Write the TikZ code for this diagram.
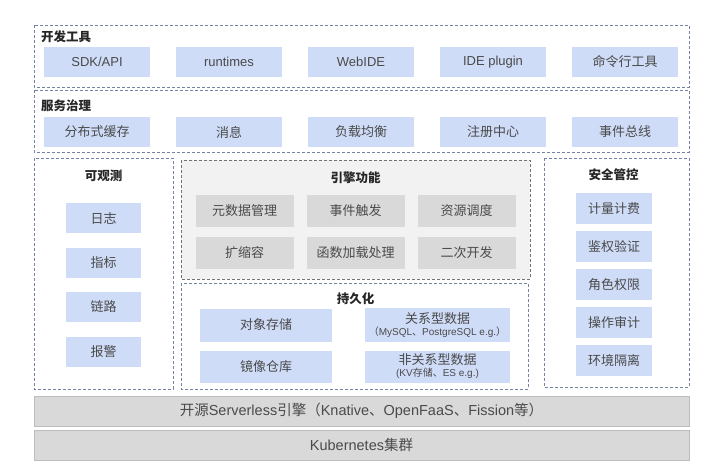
\documentclass[tikz,border=0pt]{standalone}
\usepackage{fontspec}
\setmainfont{Noto Sans CJK SC}
\newfontfamily\lat{Liberation Sans}
\usepackage{tikz}

\definecolor{boxblue}{HTML}{CFDCF7}
\definecolor{grpline}{HTML}{7483A3}
\definecolor{txtgray}{HTML}{4A4A4A}
\definecolor{engfill}{HTML}{F2F2F2}
\definecolor{enggray}{HTML}{D9D9D9}
\definecolor{barline}{HTML}{BDBDBD}

\tikzset{
  grp/.style={draw=grpline, dash pattern=on 3pt off 2pt, line width=0.8pt},
  grptitle/.style={text=black!85, font=\fontsize{12.5}{14}\selectfont\bfseries, inner sep=0pt},
  blk/.style={fill=boxblue, inner sep=0pt, text=txtgray, align=center,
    font=\fontsize{13}{15}\selectfont},
  gblk/.style={blk, fill=enggray},
  bar/.style={fill=enggray, draw=barline, line width=0.8pt, inner sep=0pt,
    minimum width=655pt, minimum height=30pt, text=txtgray,
    font=\fontsize{14.5}{16}\selectfont}
}

\begin{document}
\begin{tikzpicture}[x=1pt,y=-1pt]
  \useasboundingbox (0,0) rectangle (727,467);

  % development tools
  \draw [grp] (34,25) rectangle (689,87);
  \node [grptitle, anchor=west] (devtitle) at (41,37) {开发工具};
  \foreach \t [count=\i] in {\lat SDK/API, \lat runtimes, \lat WebIDE, \lat IDE plugin, 命令行工具} {
    \node [blk, minimum width=106pt, minimum height=30pt] (dev\i) at (97+132*\i-132,62) {\t};
  }

  % service governance
  \draw [grp] (34,90) rectangle (689,152);
  \node [grptitle, anchor=west] (svctitle) at (41,106) {服务治理};
  \foreach \t [count=\i] in {分布式缓存, 消息, 负载均衡, 注册中心, 事件总线} {
    \node [blk, minimum width=106pt, minimum height=30pt] (svc\i) at (97+132*\i-132,132) {\t};
  }

  % observability
  \draw [grp] (34,158) rectangle (173,389);
  \node [grptitle] (obstitle) at (103.5,176) {可观测};
  \foreach \t [count=\i] in {日志, 指标, 链路, 报警} {
    \node [blk, minimum width=75pt, minimum height=30pt] (obs\i) at (103.5,218+44.5*\i-44.5) {\t};
  }

  % engine
  \draw [grp, draw=gray!90!black, fill=engfill] (181,160) rectangle (530,279);
  \node [grptitle] (engtitle) at (355.5,178) {引擎功能};
  \foreach \t [count=\i] in {元数据管理, 事件触发, 资源调度} {
    \node [gblk, minimum width=98pt, minimum height=32pt] (eng\i) at (244.5+111*\i-111,211) {\t};
  }
  \foreach \t [count=\i] in {扩缩容, 函数加载处理, 二次开发} {
    \node [gblk, minimum width=98pt, minimum height=32pt] (engb\i) at (244.5+111*\i-111,253) {\t};
  }

  % persistence
  \draw [grp] (181,283) rectangle (528,389);
  \node [grptitle] (pertitle) at (355.5,299) {持久化};
  \node [blk, minimum width=132pt, minimum height=33pt] (per1) at (266,325) {对象存储};
  \node [blk, minimum width=132pt, minimum height=32pt] (per2) at (266,366.5) {镜像仓库};
  \node [blk, minimum width=145pt, minimum height=34pt] (per3) at (437.5,325)
    {关系型数据\\[-3pt]{\fontsize{10}{11}\selectfont（{\lat MySQL}、{\lat PostgreSQL e.g.}）}};
  \node [blk, minimum width=145pt, minimum height=32pt] (per4) at (437.5,366.5)
    {非关系型数据\\[-3pt]{\fontsize{10}{11}\selectfont\lat (KV{\normalfont 存储、}ES e.g.)}};

  % security
  \draw [grp] (544,158) rectangle (689,387);
  \node [grptitle] (sectitle) at (613.5,175) {安全管控};
  \foreach \t [count=\i] in {计量计费, 鉴权验证, 角色权限, 操作审计, 环境隔离} {
    \node [blk, minimum width=76pt, minimum height=31pt] (sec\i) at (614,208.5+38*\i-38) {\t};
  }

  % base layers
  \node [bar] (engine) at (361.5,411)
    {开源{\lat Serverless}引擎（{\lat Knative}、{\lat OpenFaaS}、{\lat Fission}等）};
  \node [bar] (k8s) at (361.5,445) {{\lat Kubernetes}集群};
\end{tikzpicture}
\end{document}
